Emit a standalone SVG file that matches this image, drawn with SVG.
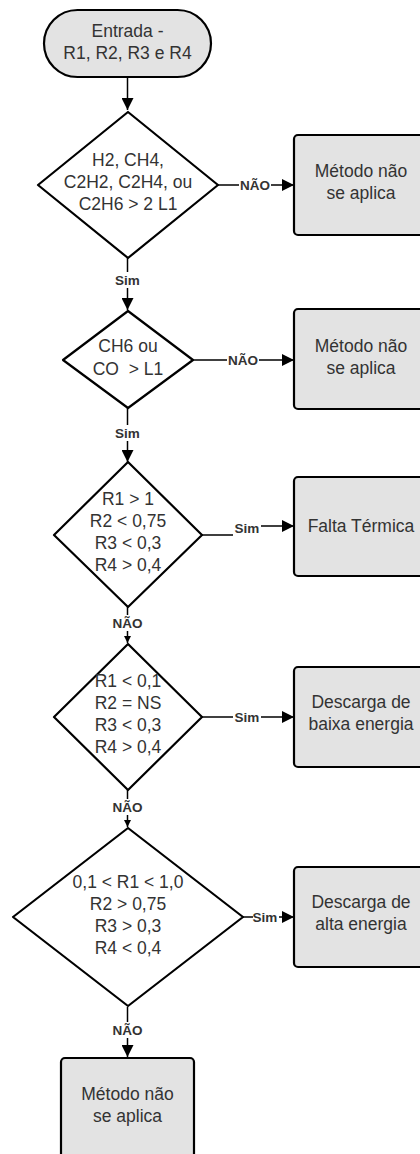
<svg xmlns="http://www.w3.org/2000/svg" width="420" height="1154" viewBox="0 0 420 1154">
<defs>
<style>
.box{fill:#e3e3e3;stroke:#000;stroke-width:2.2}
.dia{fill:#fff;stroke:#000;stroke-width:2.2;stroke-linejoin:round}
.t{font-family:"Liberation Sans",Arial,sans-serif;font-size:17.5px;fill:#333;text-anchor:middle}
.lb{font-family:"Liberation Sans",Arial,sans-serif;font-size:13.5px;font-weight:bold;fill:#333;text-anchor:middle}
.ln{fill:none;stroke:#000;stroke-width:1.5}
</style>
<marker id="ahL" viewBox="0 0 10 10" refX="10" refY="5" markerWidth="14" markerHeight="12" markerUnits="userSpaceOnUse" orient="auto"><path d="M0,0 L10,5 L0,10 z" fill="#000"/></marker>
<marker id="ahS" viewBox="0 0 10 10" refX="10" refY="5" markerWidth="7" markerHeight="7" markerUnits="userSpaceOnUse" orient="auto"><path d="M0,0 L10,5 L0,10 z" fill="#000"/></marker>
</defs>
<g id="connectors">
<path class="ln" d="M127.5,77 V110" marker-end="url(#ahL)"/>
<path class="ln" d="M218,185 H294" marker-end="url(#ahL)"/>
<path class="ln" d="M127.5,258 V310" marker-end="url(#ahL)"/>
<path class="ln" d="M193,360 H294" marker-end="url(#ahL)"/>
<path class="ln" d="M127.5,408 V462" marker-end="url(#ahL)"/>
<path class="ln" d="M202,535 H236 V526 H294" marker-end="url(#ahL)"/>
<path class="ln" d="M127.5,607 V643" marker-end="url(#ahS)"/>
<path class="ln" d="M202,717 H294" marker-end="url(#ahL)"/>
<path class="ln" d="M127.5,790 V827" marker-end="url(#ahS)"/>
<path class="ln" d="M243,917 H294" marker-end="url(#ahL)"/>
<path class="ln" d="M127.5,1007 V1057" marker-end="url(#ahL)"/>
<g>
<rect x="239" y="177" width="32" height="16" fill="#fff"/>
<text class="lb" x="255" y="190">NÃO</text>
<rect x="112" y="272" width="31" height="16" fill="#fff"/>
<text class="lb" x="127.5" y="285">Sim</text>
<rect x="227" y="352" width="32" height="16" fill="#fff"/>
<text class="lb" x="243" y="365">NÃO</text>
<rect x="112" y="425" width="31" height="16" fill="#fff"/>
<text class="lb" x="127.5" y="438">Sim</text>
<rect x="233" y="521" width="28" height="16" fill="#fff"/>
<text class="lb" x="247" y="533">Sim</text>
<rect x="111" y="615" width="33" height="16" fill="#fff"/>
<text class="lb" x="127.5" y="628">NÃO</text>
<rect x="233" y="709" width="28" height="16" fill="#fff"/>
<text class="lb" x="247" y="722">Sim</text>
<rect x="111" y="799" width="33" height="16" fill="#fff"/>
<text class="lb" x="127.5" y="812">NÃO</text>
<rect x="253" y="909" width="26" height="16" fill="#fff"/>
<text class="lb" x="265" y="922">Sim</text>
<rect x="111" y="1022" width="33" height="16" fill="#fff"/>
<text class="lb" x="127.5" y="1035">NÃO</text>
</g>
</g>
<g id="start">
<rect class="box" x="44" y="10" width="167" height="67" rx="33.5"/>
<text class="t" x="127.5" y="37">Entrada -</text>
<text class="t" x="127.5" y="59">R1, R2, R3 e R4</text>
</g>
<g id="d1">
<path class="dia" d="M128,112 L218,185 L128,258 L38,185 Z"/>
<text class="t" x="128" y="166">H2, CH4,</text>
<text class="t" x="128" y="188">C2H2, C2H4, ou</text>
<text class="t" x="128" y="210">C2H6 &gt; 2 L1</text>
</g>
<g id="b1">
<rect class="box" x="294" y="135" width="134" height="100" rx="4"/>
<text class="t" x="361" y="177">Método não</text>
<text class="t" x="361" y="199">se aplica</text>
</g>
<g id="d2">
<path class="dia" d="M128,311 L193,360 L128,408 L63,360 Z"/>
<text class="t" x="128" y="352">CH6 ou</text>
<text class="t" x="128" y="375" xml:space="preserve">CO  &gt; L1</text>
</g>
<g id="b2">
<rect class="box" x="294" y="309" width="134" height="100" rx="4"/>
<text class="t" x="361" y="352">Método não</text>
<text class="t" x="361" y="374">se aplica</text>
</g>
<g id="d3">
<path class="dia" d="M128,462 L202,535 L128,607 L54,535 Z"/>
<text class="t" x="128" y="505">R1 &gt; 1</text>
<text class="t" x="128" y="527">R2 &lt; 0,75</text>
<text class="t" x="128" y="549">R3 &lt; 0,3</text>
<text class="t" x="128" y="571">R4 &gt; 0,4</text>
</g>
<g id="b3">
<rect class="box" x="294" y="477" width="134" height="99" rx="4"/>
<text class="t" x="361" y="532">Falta Térmica</text>
</g>
<g id="d4">
<path class="dia" d="M128,644 L202,717 L128,790 L54,717 Z"/>
<text class="t" x="128" y="687">R1 &lt; 0,1</text>
<text class="t" x="128" y="709">R2 = NS</text>
<text class="t" x="128" y="731">R3 &lt; 0,3</text>
<text class="t" x="128" y="753">R4 &gt; 0,4</text>
</g>
<g id="b4">
<rect class="box" x="294" y="667" width="134" height="100" rx="4"/>
<text class="t" x="361" y="708">Descarga de</text>
<text class="t" x="361" y="730">baixa energia</text>
</g>
<g id="d5">
<path class="dia" d="M128,828 L243,917 L128,1006 L13,917 Z"/>
<text class="t" x="128" y="888">0,1 &lt; R1 &lt; 1,0</text>
<text class="t" x="128" y="910">R2 &gt; 0,75</text>
<text class="t" x="128" y="932">R3 &gt; 0,3</text>
<text class="t" x="128" y="954">R4 &lt; 0,4</text>
</g>
<g id="b5">
<rect class="box" x="294" y="867" width="134" height="100" rx="4"/>
<text class="t" x="361" y="908">Descarga de</text>
<text class="t" x="361" y="930">alta energia</text>
</g>
<g id="b6">
<rect class="box" x="61" y="1058" width="133" height="100" rx="4"/>
<text class="t" x="127.5" y="1100">Método não</text>
<text class="t" x="127.5" y="1122">se aplica</text>
</g>
</svg>
